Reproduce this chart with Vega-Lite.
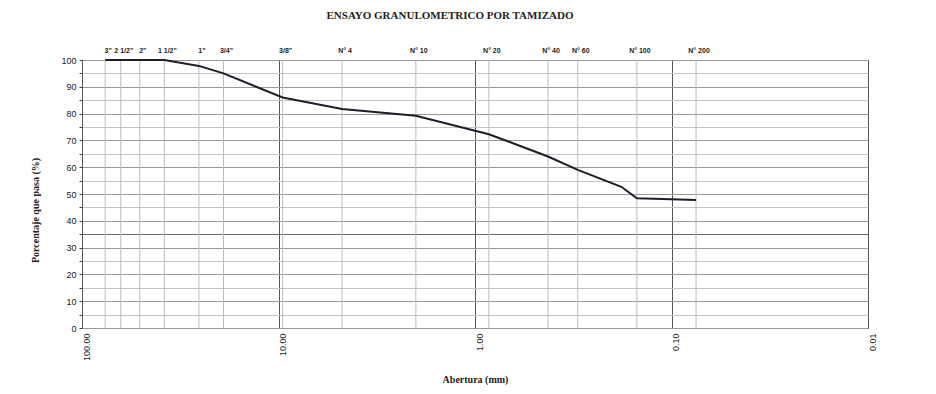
{
  "$schema": "https://vega.github.io/schema/vega-lite/v6.json",
  "width": 786,
  "height": 268,
  "autosize": "none",
  "padding": {"left": 82, "top": 60, "right": 68, "bottom": 66},
  "background": "white",
  "config": {"view": {"stroke": "#444", "strokeWidth": 1}},
  "title": {
    "text": "ENSAYO GRANULOMETRICO POR TAMIZADO",
    "font": "Liberation Serif",
    "fontSize": 11,
    "fontWeight": "bold",
    "color": "#222",
    "frame": "group",
    "offset": 26,
    "dx": -25
  },
  "datasets": {
    "curve": [
      {"mm": 76.2, "pct": 100},
      {"mm": 63.5, "pct": 100},
      {"mm": 50.8, "pct": 100},
      {"mm": 38.1, "pct": 100},
      {"mm": 25.4, "pct": 97.8},
      {"mm": 19.05, "pct": 95.0},
      {"mm": 9.525, "pct": 86.0},
      {"mm": 4.75, "pct": 81.7},
      {"mm": 2.0, "pct": 79.2},
      {"mm": 0.85, "pct": 72.3},
      {"mm": 0.425, "pct": 64.0},
      {"mm": 0.3, "pct": 59.0},
      {"mm": 0.18, "pct": 52.7},
      {"mm": 0.15, "pct": 48.4},
      {"mm": 0.075, "pct": 47.8}
    ],
    "sieves": [
      {"mm": 76.2, "label": "3\""},
      {"mm": 63.5, "label": "2 1/2\""},
      {"mm": 50.8, "label": "2\""},
      {"mm": 38.1, "label": "1 1/2\""},
      {"mm": 25.4, "label": "1\""},
      {"mm": 19.05, "label": "3/4\""},
      {"mm": 9.525, "label": "3/8\""},
      {"mm": 4.75, "label": "N° 4"},
      {"mm": 2.0, "label": "N° 10"},
      {"mm": 0.85, "label": "N° 20"},
      {"mm": 0.425, "label": "N° 40"},
      {"mm": 0.3, "label": "N° 60"},
      {"mm": 0.15, "label": "N° 100"},
      {"mm": 0.075, "label": "N° 200"}
    ]
  },
  "layer": [
    {
      "data": {"name": "sieves"},
      "mark": {"type": "rule", "color": "#bbb", "strokeWidth": 1},
      "encoding": {
        "x": {
          "field": "mm",
          "type": "quantitative",
          "title": "Abertura (mm)",
          "scale": {"type": "log", "domain": [0.01, 100], "reverse": true},
          "axis": {
            "values": [100, 10, 1, 0.1, 0.01],
            "format": ".2f",
            "labelAngle": -90,
            "labelFont": "Liberation Sans",
            "labelFontSize": 9,
            "labelColor": "#222",
            "labelPadding": 5,
            "labelOffset": 4,
            "domain": false,
            "ticks": false,
            "grid": true,
            "gridColor": "#555",
            "gridWidth": 1,
            "titleFont": "Liberation Serif",
            "titleFontSize": 10,
            "titleFontWeight": "bold",
            "titleColor": "#222",
            "titlePadding": 14
          }
        }
      }
    },
    {
      "data": {"name": "curve"},
      "mark": {"type": "line", "color": "#1e1e2a", "strokeWidth": 2},
      "encoding": {
        "x": {"field": "mm", "type": "quantitative", "title": "Abertura (mm)"},
        "y": {
          "field": "pct",
          "type": "quantitative",
          "title": "Porcentaje que pasa (%)",
          "scale": {"domain": [0, 100]},
          "axis": {
            "values": [0, 5, 10, 15, 20, 25, 30, 35, 40, 45, 50, 55, 60, 65, 70, 75, 80, 85, 90, 95, 100],
            "labelExpr": "datum.value % 10 == 0 ? datum.label : ''",
            "labelFont": "Liberation Sans",
            "labelFontSize": 9,
            "labelColor": "#222",
            "labelPadding": 3,
            "domain": false,
            "tickSize": 3,
            "tickColor": "#444",
            "grid": true,
            "gridColor": {"condition": [{"test": "datum.value == 35", "value": "#666"}, {"test": "datum.value % 10 == 0", "value": "#999"}], "value": "#c4c4c4"},
            "titleFont": "Liberation Serif",
            "titleFontSize": 10,
            "titleFontWeight": "bold",
            "titleColor": "#222",
            "titlePadding": 20,
            "titleY": 150
          }
        }
      }
    },
    {
      "data": {"name": "sieves"},
      "mark": {"type": "text", "font": "Liberation Sans", "fontSize": 7, "fontWeight": "bold", "color": "#222", "dy": -6, "dx": 3, "baseline": "bottom"},
      "encoding": {
        "x": {"field": "mm", "type": "quantitative", "title": "Abertura (mm)"},
        "y": {
          "datum": 100,
          "type": "quantitative",
          "title": "Porcentaje que pasa (%)",
          "axis": {
            "values": [0, 5, 10, 15, 20, 25, 30, 35, 40, 45, 50, 55, 60, 65, 70, 75, 80, 85, 90, 95, 100],
            "labelExpr": "datum.value % 10 == 0 ? datum.label : ''",
            "labelFont": "Liberation Sans",
            "labelFontSize": 9,
            "labelColor": "#222",
            "labelPadding": 3,
            "domain": false,
            "tickSize": 3,
            "tickColor": "#444",
            "grid": true,
            "gridColor": {"condition": [{"test": "datum.value == 35", "value": "#666"}, {"test": "datum.value % 10 == 0", "value": "#999"}], "value": "#c4c4c4"},
            "titleFont": "Liberation Serif",
            "titleFontSize": 10,
            "titleFontWeight": "bold",
            "titleColor": "#222",
            "titlePadding": 20,
            "titleY": 150
          }
        },
        "text": {"field": "label"}
      }
    }
  ]
}
